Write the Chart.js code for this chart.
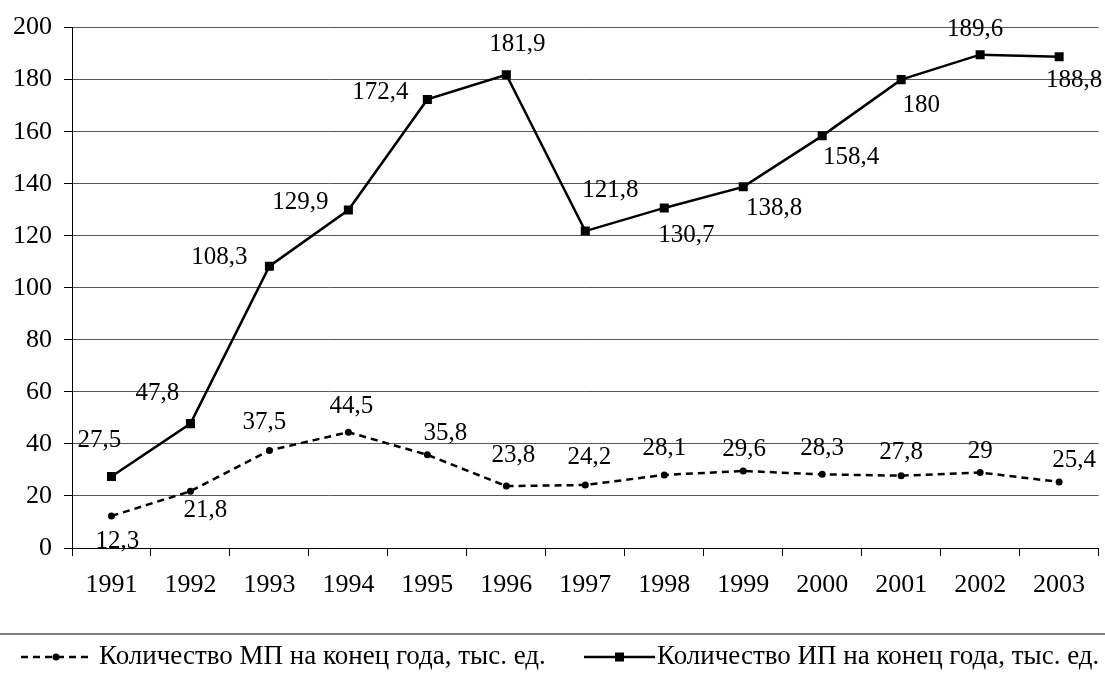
<!DOCTYPE html>
<html>
<head>
<meta charset="utf-8">
<script src="https://cdn.jsdelivr.net/npm/chart.js@4"></script>
<style>
  html, body { margin: 0; padding: 0; background: #fff; }
  #wrap { width: 1105px; height: 676px; }
</style>
</head>
<body>
<div id="wrap"><canvas id="chart" width="1105" height="676"></canvas></div>
<script>
// data
const years = ["1991", "1992", "1993", "1994", "1995", "1996", "1997", "1998", "1999", "2000", "2001", "2002", "2003"];
const mpValues = [12.3, 21.8, 37.5, 44.5, 35.8, 23.8, 24.2, 28.1, 29.6, 28.3, 27.8, 29, 25.4];
const ipValues = [27.5, 47.8, 108.3, 129.9, 172.4, 181.9, 121.8, 130.7, 138.8, 158.4, 180, 189.6, 188.8];
const mpLabel = "Количество МП на конец года, тыс. ед.";
const ipLabel = "Количество ИП на конец года, тыс. ед.";
const yTicks = [0, 20, 40, 60, 80, 100, 120, 140, 160, 180, 200];

// label offsets from the point (px), like excel put them
const mpLabelShift = [[6, 25], [15, 19], [-5, -28], [3, -26], [18, -21], [7, -31], [4, -28], [0, -26], [1, -22], [0, -26], [0, -23], [0, -21], [15, -21]];
const ipLabelShift = [[-12, -36], [-33, -30], [-50, -9], [-48, -8], [-47, -7], [11, -30], [25, -41], [22, 28], [31, 22], [29, 22], [20, 26], [-5, -25], [15, 24]];

const FONT = '"Liberation Serif", "Times New Roman", serif';

const fmt = (v) => String(v).replace(".", ",");

const dataLabels = {
    id: "dataLabels",
    afterDatasetsDraw: (chart) => {
        const ctx = chart.ctx;
        ctx.save();
        ctx.font = "25px " + FONT;
        ctx.fillStyle = "#000";
        ctx.textAlign = "center";
        ctx.textBaseline = "middle";
        chart.data.datasets.forEach((ds, di) => {
            const meta = chart.getDatasetMeta(di);
            const shift = di === 0 ? mpLabelShift : ipLabelShift;
            meta.data.forEach((pt, i) => {
                ctx.fillText(fmt(ds.data[i]), pt.x + shift[i][0], pt.y + shift[i][1]);
            });
        });
        ctx.restore();
    }
};

// legend under a grey rule
const bottomLegend = {
    id: "bottomLegend",
    afterDraw: (chart) => {
        const ctx = chart.ctx;
        ctx.save();
        ctx.strokeStyle = "#7f7f7f";
        ctx.lineWidth = 2;
        ctx.beginPath();
        ctx.moveTo(0, 634);
        ctx.lineTo(1105, 634);
        ctx.stroke();

        const y = 657;
        // MP sample
        ctx.strokeStyle = "#000";
        ctx.lineWidth = 2.5;
        ctx.setLineDash([7, 5]);
        ctx.beginPath();
        ctx.moveTo(21, y);
        ctx.lineTo(90, y);
        ctx.stroke();
        ctx.setLineDash([]);
        ctx.fillStyle = "#000";
        ctx.beginPath();
        ctx.arc(56, y, 3.5, 0, Math.PI * 2);
        ctx.fill();
        // IP sample
        ctx.lineWidth = 2.5;
        ctx.beginPath();
        ctx.moveTo(584, y);
        ctx.lineTo(655, y);
        ctx.stroke();
        ctx.fillRect(615, y - 4.5, 9, 9);

        ctx.font = "27px " + FONT;
        ctx.textAlign = "left";
        ctx.textBaseline = "middle";
        ctx.fillText(mpLabel, 99, y);
        ctx.fillText(ipLabel, 657, y);
        ctx.restore();
    }
};

new Chart(document.getElementById("chart"), {
    type: "line",
    data: {
        labels: years,
        datasets: [
            {
                label: mpLabel,
                data: mpValues,
                borderColor: "#000",
                backgroundColor: "#000",
                borderWidth: 2.5,
                borderDash: [7, 5],
                pointStyle: "circle",
                pointRadius: 3.5,
                pointBorderWidth: 0,
                tension: 0
            },
            {
                label: ipLabel,
                data: ipValues,
                borderColor: "#000",
                backgroundColor: "#000",
                borderWidth: 2.5,
                pointStyle: "rect",
                pointRadius: 6.4,
                pointBorderWidth: 0,
                tension: 0
            }
        ]
    },
    options: {
        responsive: false,
        animation: false,
        devicePixelRatio: 1,
        layout: { padding: { left: 0, right: 6, top: 25, bottom: 68 } },
        plugins: {
            legend: { display: false },
            tooltip: { enabled: false }
        },
        scales: {
            x: {
                offset: true,
                grid: {
                    offset: true,
                    drawOnChartArea: false,
                    drawTicks: true,
                    tickLength: 8,
                    tickColor: "#000"
                },
                border: { color: "#000", width: 1 },
                ticks: {
                    color: "#000",
                    font: { family: FONT, size: 26 },
                    padding: 14,
                    maxRotation: 0
                },
                afterFit: (scale) => { scale.height = 60; }
            },
            y: {
                min: 0,
                max: 200,
                afterBuildTicks: (scale) => { scale.ticks = yTicks.map((v) => ({ value: v })); },
                grid: {
                    color: "#555",
                    lineWidth: 1,
                    tickLength: 8,
                    tickColor: "#000"
                },
                border: { color: "#000", width: 1 },
                ticks: {
                    color: "#000",
                    font: { family: FONT, size: 26 },
                    padding: 12
                },
                afterFit: (scale) => { scale.width = 72; }
            }
        }
    },
    plugins: [dataLabels, bottomLegend]
});
</script>
</body>
</html>
